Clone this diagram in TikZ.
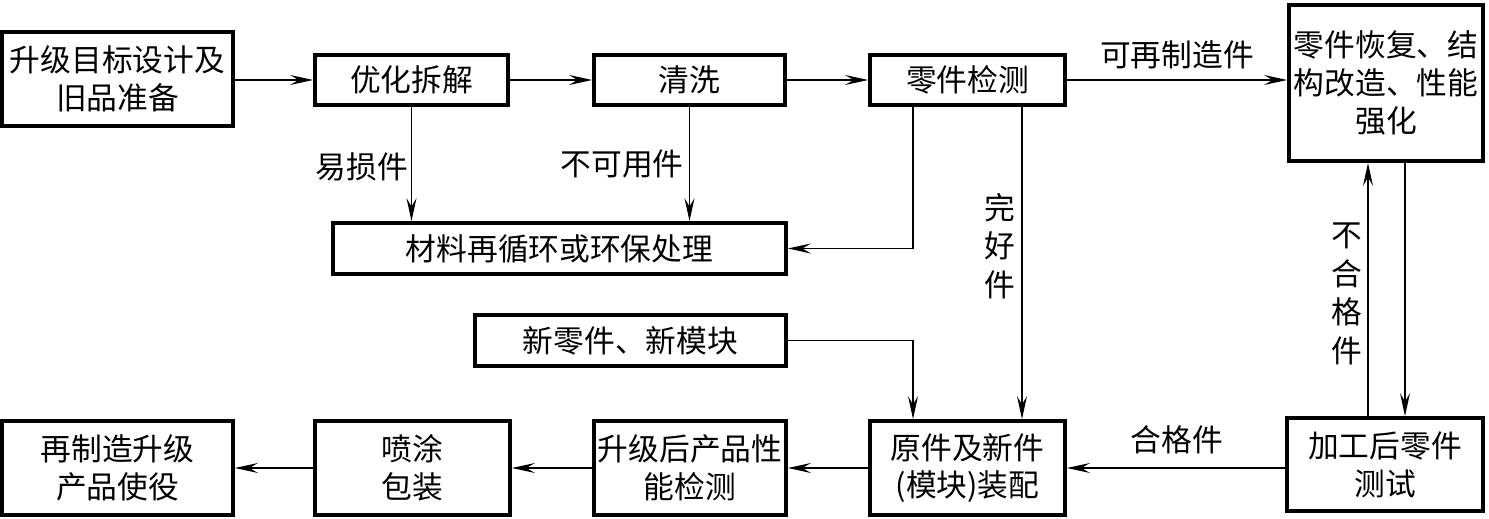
\documentclass[tikz,border=0pt]{standalone}
\usepackage{fontspec}
\setmainfont{Noto Sans CJK SC}
\usetikzlibrary{arrows.meta, positioning}
\tikzset{
  every picture/.style={font=\fontsize{17.5}{21.5}\selectfont, >={Stealth[length=4.6mm, width=2mm, inset=1.7mm]}},
  blk/.style={draw, line width=2.2pt, inner sep=0pt, align=center, minimum height=1cm},
  lbl/.style={inner sep=0pt, align=center},
  vlbl/.style={inner sep=0pt, align=center, font=\fontsize{17.5}{22}\selectfont},
  flow/.style={->, line width=0.75pt},
}
\begin{document}
\begin{tikzpicture}[x=0.02cm, y=-0.02cm]
  \useasboundingbox (0,0) rectangle (1489,519);
  % upper row
  \node[blk, minimum width=4.62cm, minimum height=1.88cm] (prep) at (117.5,79) {升级目标设计及\\旧品准备};
  \node[blk, minimum width=3.86cm] (chai) at (411.5,80) {优化拆解};
  \node[blk, minimum width=3.82cm] (qing) at (689.5,80) {清洗};
  \node[blk, minimum width=3.9cm] (jian) at (967.5,80) {零件检测};
  \node[blk, minimum width=3.88cm, minimum height=3.12cm] (xiu) at (1386,83) {零件恢复、结\\构改造、性能\\强化};
  \node[blk, minimum width=9.06cm, minimum height=1.02cm] (cai) at (559.5,248.5) {材料再循环或环保处理};
  \node[blk, minimum width=6.22cm, minimum height=1.02cm] (xin) at (630.5,340.5) {新零件、新模块};
  % lower row
  \node[blk, minimum width=4.62cm, minimum height=1.88cm] (yong) at (117.5,468) {再制造升级\\产品使役};
  \node[blk, minimum width=3.9cm, minimum height=1.88cm] (pen) at (412.5,468) {喷涂\\包装};
  \node[blk, minimum width=3.84cm, minimum height=1.88cm] (xing) at (690,468) {升级后产品性\\能检测};
  \node[blk, minimum width=3.9cm, minimum height=1.88cm] (zhuang) at (967.5,468) {原件及新件\\(模块)装配};
  \node[blk, minimum width=3.92cm, minimum height=1.86cm] (ce) at (1385,464.5) {加工后零件\\测试};
  % connectors
  \draw[flow] (prep.east |- chai) -- (chai);
  \draw[flow] (chai) -- (qing);
  \draw[flow] (qing) -- (jian);
  \draw[flow] (jian) -- (jian -| xiu.west);
  \draw[flow] (chai) -- (chai |- cai.north);
  \draw[flow] (qing) -- (qing |- cai.north);
  \draw[flow] ([xshift=-1.09cm]jian.south) |- (cai.east);
  \draw[flow] ([xshift=1.09cm]jian.south) -- ([xshift=1.09cm]zhuang.north);
  \draw[flow] (xin.east) -| ([xshift=-1.09cm]zhuang.north);
  \draw[flow] ([xshift=-0.34cm]ce.north) -- ([xshift=-0.34cm]ce.north |- xiu.south);
  \draw[flow] ([xshift=0.38cm]xiu.south) -- ([xshift=0.38cm]xiu.south |- ce.north);
  \draw[flow] (ce.west |- zhuang) -- (zhuang);
  \draw[flow] (zhuang) -- (xing);
  \draw[flow] (xing) -- (pen);
  \draw[flow] (pen) -- (yong);
  % labels
  \node[lbl] (l1) at (1177,55) {可再制造件};
  \node[lbl] (l2) at (362,167) {易损件};
  \node[lbl] (l3) at (622,164) {不可用件};
  \node[vlbl] (l4) at (1000,246) {完\\好\\件};
  \node[vlbl] (l5) at (1347,294) {不\\合\\格\\件};
  \node[lbl] (l6) at (1177,440) {合格件};
\end{tikzpicture}
\end{document}
